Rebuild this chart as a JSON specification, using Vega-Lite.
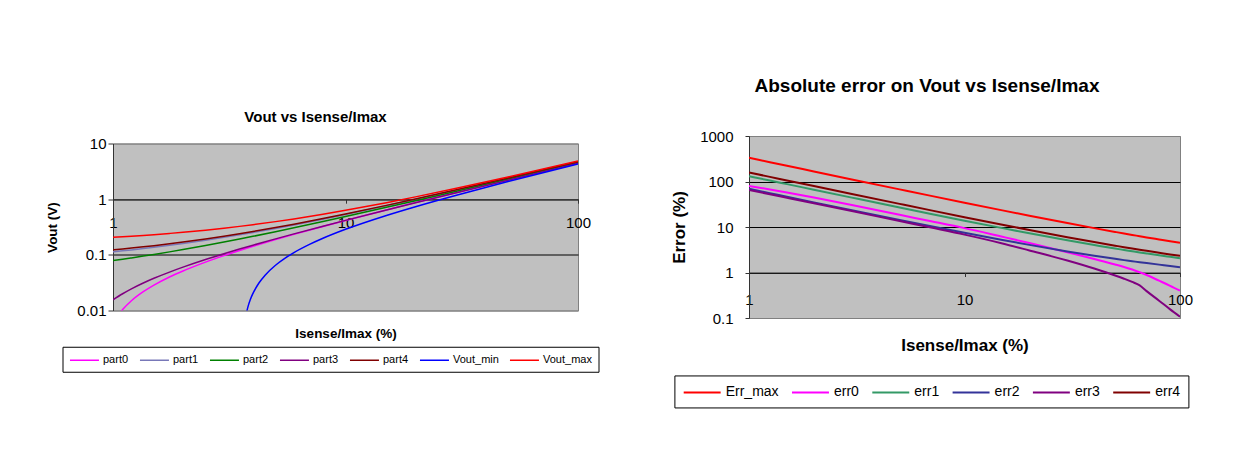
{
  "$schema": "https://vega.github.io/schema/vega-lite/v6.json",
  "background": "white",
  "padding": {"left": 45, "top": 76, "right": 5, "bottom": 5},
  "bounds": "flush",
  "center": true,
  "spacing": 171,
  "config": {
    "font": "Liberation Sans",
    "view": {"fill": "#C0C0C0", "stroke": "#808080", "strokeWidth": 1},
    "axis": {"labelColor": "black", "titleColor": "black", "labelFont": "Liberation Sans", "titleFont": "Liberation Sans", "domainColor": "#333333", "tickColor": "#333333", "gridOpacity": 1, "labelFlush": false, "labelOverlap": false},
    "legend": {"labelFont": "Liberation Sans", "labelColor": "black", "strokeColor": "black", "fillColor": "white", "title": null},
    "title": {"font": "Liberation Sans", "color": "black", "fontWeight": "bold"}
  },
  "resolve": {"scale": {"color": "independent"}, "legend": {"color": "independent"}},
  "hconcat": [
    {
      "width": 465,
      "height": 167,
      "title": {"text": "Vout vs Isense/Imax", "fontSize": 15, "anchor": "middle", "frame": "group", "dx": -30, "offset": -0.45, "baseline": "alphabetic"},
      "data": {"values": [
        {"s":"part0","x":1,"v":0.0059},{"s":"part0","x":1.1,"v":0.0104},{"s":"part0","x":1.2,"v":0.015},{"s":"part0","x":1.35,"v":0.0218},{"s":"part0","x":1.5,"v":0.0286},{"s":"part0","x":1.75,"v":0.04},{"s":"part0","x":2,"v":0.0513},{"s":"part0","x":2.5,"v":0.074},{"s":"part0","x":3,"v":0.0967},{"s":"part0","x":3.5,"v":0.1194},{"s":"part0","x":4,"v":0.1421},{"s":"part0","x":5,"v":0.1875},{"s":"part0","x":6,"v":0.2329},{"s":"part0","x":8,"v":0.3237},{"s":"part0","x":10,"v":0.4145},{"s":"part0","x":15,"v":0.6415},{"s":"part0","x":20,"v":0.8685},{"s":"part0","x":30,"v":1.3225},{"s":"part0","x":50,"v":2.2305},{"s":"part0","x":70,"v":3.1385},{"s":"part0","x":100,"v":4.5005},
        {"s":"part1","x":1,"v":0.1133},{"s":"part1","x":1.1,"v":0.1179},{"s":"part1","x":1.2,"v":0.1226},{"s":"part1","x":1.35,"v":0.1295},{"s":"part1","x":1.5,"v":0.1365},{"s":"part1","x":1.75,"v":0.148},{"s":"part1","x":2,"v":0.1596},{"s":"part1","x":2.5,"v":0.1828},{"s":"part1","x":3,"v":0.2059},{"s":"part1","x":3.5,"v":0.2291},{"s":"part1","x":4,"v":0.2522},{"s":"part1","x":5,"v":0.2985},{"s":"part1","x":6,"v":0.3448},{"s":"part1","x":8,"v":0.4374},{"s":"part1","x":10,"v":0.53},{"s":"part1","x":15,"v":0.7615},{"s":"part1","x":20,"v":0.993},{"s":"part1","x":30,"v":1.456},{"s":"part1","x":50,"v":2.382},{"s":"part1","x":70,"v":3.308},{"s":"part1","x":100,"v":4.697},
        {"s":"part2","x":1,"v":0.079},{"s":"part2","x":1.1,"v":0.0835},{"s":"part2","x":1.2,"v":0.0881},{"s":"part2","x":1.35,"v":0.0949},{"s":"part2","x":1.5,"v":0.1017},{"s":"part2","x":1.75,"v":0.113},{"s":"part2","x":2,"v":0.1243},{"s":"part2","x":2.5,"v":0.147},{"s":"part2","x":3,"v":0.1696},{"s":"part2","x":3.5,"v":0.1923},{"s":"part2","x":4,"v":0.2149},{"s":"part2","x":5,"v":0.2602},{"s":"part2","x":6,"v":0.3055},{"s":"part2","x":8,"v":0.3961},{"s":"part2","x":10,"v":0.4867},{"s":"part2","x":15,"v":0.7132},{"s":"part2","x":20,"v":0.9397},{"s":"part2","x":30,"v":1.3927},{"s":"part2","x":50,"v":2.2987},{"s":"part2","x":70,"v":3.2047},{"s":"part2","x":100,"v":4.5637},
        {"s":"part3","x":1,"v":0.0156},{"s":"part3","x":1.1,"v":0.02},{"s":"part3","x":1.2,"v":0.0245},{"s":"part3","x":1.35,"v":0.0312},{"s":"part3","x":1.5,"v":0.0379},{"s":"part3","x":1.75,"v":0.049},{"s":"part3","x":2,"v":0.0601},{"s":"part3","x":2.5,"v":0.0824},{"s":"part3","x":3,"v":0.1046},{"s":"part3","x":3.5,"v":0.1269},{"s":"part3","x":4,"v":0.1491},{"s":"part3","x":5,"v":0.1936},{"s":"part3","x":6,"v":0.2381},{"s":"part3","x":8,"v":0.3271},{"s":"part3","x":10,"v":0.4161},{"s":"part3","x":15,"v":0.6386},{"s":"part3","x":20,"v":0.8611},{"s":"part3","x":30,"v":1.3061},{"s":"part3","x":50,"v":2.1961},{"s":"part3","x":70,"v":3.0861},{"s":"part3","x":100,"v":4.4211},
        {"s":"part4","x":1,"v":0.123},{"s":"part4","x":1.1,"v":0.1277},{"s":"part4","x":1.2,"v":0.1323},{"s":"part4","x":1.35,"v":0.1393},{"s":"part4","x":1.5,"v":0.1463},{"s":"part4","x":1.75,"v":0.1579},{"s":"part4","x":2,"v":0.1695},{"s":"part4","x":2.5,"v":0.1928},{"s":"part4","x":3,"v":0.216},{"s":"part4","x":3.5,"v":0.2393},{"s":"part4","x":4,"v":0.2625},{"s":"part4","x":5,"v":0.309},{"s":"part4","x":6,"v":0.3555},{"s":"part4","x":8,"v":0.4485},{"s":"part4","x":10,"v":0.5415},{"s":"part4","x":15,"v":0.774},{"s":"part4","x":20,"v":1.0065},{"s":"part4","x":30,"v":1.472},{"s":"part4","x":50,"v":2.4015},{"s":"part4","x":70,"v":3.332},{"s":"part4","x":100,"v":4.7265},
        {"s":"Vout_min","x":3.7,"v":0.0069},{"s":"Vout_min","x":3.8,"v":0.0114},{"s":"Vout_min","x":3.9,"v":0.0159},{"s":"Vout_min","x":4,"v":0.0203},{"s":"Vout_min","x":4.25,"v":0.0315},{"s":"Vout_min","x":4.5,"v":0.0426},{"s":"Vout_min","x":5,"v":0.0649},{"s":"Vout_min","x":5.5,"v":0.0872},{"s":"Vout_min","x":6,"v":0.1095},{"s":"Vout_min","x":7,"v":0.154},{"s":"Vout_min","x":8,"v":0.1986},{"s":"Vout_min","x":10,"v":0.2878},{"s":"Vout_min","x":15,"v":0.5107},{"s":"Vout_min","x":20,"v":0.7336},{"s":"Vout_min","x":30,"v":1.1794},{"s":"Vout_min","x":50,"v":2.071},{"s":"Vout_min","x":70,"v":2.9626},{"s":"Vout_min","x":100,"v":4.3},
        {"s":"Vout_max","x":1,"v":0.207},{"s":"Vout_max","x":1.1,"v":0.2117},{"s":"Vout_max","x":1.2,"v":0.2164},{"s":"Vout_max","x":1.35,"v":0.2235},{"s":"Vout_max","x":1.5,"v":0.2305},{"s":"Vout_max","x":1.75,"v":0.2423},{"s":"Vout_max","x":2,"v":0.254},{"s":"Vout_max","x":2.5,"v":0.2775},{"s":"Vout_max","x":3,"v":0.301},{"s":"Vout_max","x":3.5,"v":0.3245},{"s":"Vout_max","x":4,"v":0.348},{"s":"Vout_max","x":5,"v":0.395},{"s":"Vout_max","x":6,"v":0.442},{"s":"Vout_max","x":8,"v":0.536},{"s":"Vout_max","x":10,"v":0.63},{"s":"Vout_max","x":15,"v":0.865},{"s":"Vout_max","x":20,"v":1.1},{"s":"Vout_max","x":30,"v":1.57},{"s":"Vout_max","x":50,"v":2.51},{"s":"Vout_max","x":70,"v":3.45},{"s":"Vout_max","x":100,"v":4.86}
      ]},
      "mark": {"type": "line", "strokeWidth": 1.5, "clip": true, "interpolate": "monotone"},
      "encoding": {
        "x": {"field": "x", "type": "quantitative", "scale": {"type": "log", "domain": [1, 100], "nice": false},
          "axis": {"values": [1, 10, 100], "format": "~g", "offset": -111.33, "grid": false, "tickSize": 4, "labelPadding": 12, "labelFontSize": 15, "title": "Isense/Imax (%)", "titleFontSize": 13.5, "titleFontWeight": "bold", "titlePadding": 96}},
        "y": {"field": "v", "type": "quantitative", "scale": {"type": "log", "domain": [0.01, 10], "nice": false},
          "axis": {"values": [0.01, 0.1, 1, 10], "format": "~g", "grid": true, "gridColor": {"condition": {"test": "datum.value == 10 || datum.value == 0.01", "value": "#808080"}, "value": "black"}, "tickSize": 5, "labelPadding": 2, "labelFontSize": 15, "title": "Vout (V)", "titleFontSize": 13.5, "titleFontWeight": "bold", "titlePadding": 17}},
        "color": {"field": "s", "type": "nominal",
          "scale": {"domain": ["part0", "part1", "part2", "part3", "part4", "Vout_min", "Vout_max"], "range": ["#FF00FF", "#7878B8", "#008000", "#800080", "#800000", "#0000FF", "#FF0000"]},
          "legend": {"orient": "none", "legendX": -50.5, "legendY": 203.25, "direction": "horizontal", "columns": 7, "symbolType": "M-1,0H3.8", "symbolSize": 146, "symbolStrokeWidth": 1.5, "labelFontSize": 11, "labelOffset": 20, "columnPadding": 7, "padding": 6.5}}
      }
    },
    {
      "width": 431,
      "height": 182,
      "title": {"text": "Absolute error on Vout vs Isense/Imax", "fontSize": 19, "anchor": "middle", "frame": "group", "dx": -37.5, "offset": 18.25, "baseline": "alphabetic"},
      "data": {"values": [
        {"s":"Err_max","x":1,"v":331.2},{"s":"Err_max","x":1.25,"v":265.2},{"s":"Err_max","x":1.5,"v":221.2},{"s":"Err_max","x":2,"v":166.2},{"s":"Err_max","x":3,"v":111.2},{"s":"Err_max","x":5,"v":67.2},{"s":"Err_max","x":7,"v":48.3},{"s":"Err_max","x":10,"v":34.2},{"s":"Err_max","x":15,"v":23.2},{"s":"Err_max","x":20,"v":17.7},{"s":"Err_max","x":30,"v":12.2},{"s":"Err_max","x":40,"v":9.45},{"s":"Err_max","x":50,"v":7.8},{"s":"Err_max","x":55,"v":7.2},{"s":"Err_max","x":60,"v":6.7},{"s":"Err_max","x":65,"v":6.28},{"s":"Err_max","x":70,"v":5.91},{"s":"Err_max","x":80,"v":5.33},{"s":"Err_max","x":90,"v":4.87},{"s":"Err_max","x":100,"v":4.5},
        {"s":"err0","x":1,"v":80},{"s":"err0","x":1.25,"v":67},{"s":"err0","x":1.5,"v":57.5},{"s":"err0","x":2,"v":44.5},{"s":"err0","x":3,"v":30.5},{"s":"err0","x":5,"v":18.5},{"s":"err0","x":7,"v":13.4},{"s":"err0","x":10,"v":9.45},{"s":"err0","x":15,"v":6.1},{"s":"err0","x":20,"v":4.45},{"s":"err0","x":30,"v":2.8},{"s":"err0","x":40,"v":1.98},{"s":"err0","x":50,"v":1.5},{"s":"err0","x":55,"v":1.32},{"s":"err0","x":60,"v":1.16},{"s":"err0","x":65,"v":1.01},{"s":"err0","x":70,"v":0.88},{"s":"err0","x":80,"v":0.66},{"s":"err0","x":90,"v":0.51},{"s":"err0","x":100,"v":0.4},
        {"s":"err1","x":1,"v":131},{"s":"err1","x":1.25,"v":104.9},{"s":"err1","x":1.5,"v":87.6},{"s":"err1","x":2,"v":65.9},{"s":"err1","x":3,"v":44.2},{"s":"err1","x":5,"v":26.8},{"s":"err1","x":7,"v":19.36},{"s":"err1","x":10,"v":13.78},{"s":"err1","x":15,"v":9.44},{"s":"err1","x":20,"v":7.27},{"s":"err1","x":30,"v":5.1},{"s":"err1","x":40,"v":4.02},{"s":"err1","x":50,"v":3.36},{"s":"err1","x":55,"v":3.13},{"s":"err1","x":60,"v":2.93},{"s":"err1","x":65,"v":2.76},{"s":"err1","x":70,"v":2.62},{"s":"err1","x":80,"v":2.39},{"s":"err1","x":90,"v":2.21},{"s":"err1","x":100,"v":2.06},
        {"s":"err2","x":1,"v":69},{"s":"err2","x":1.25,"v":55.35},{"s":"err2","x":1.5,"v":46.2},{"s":"err2","x":2,"v":34.8},{"s":"err2","x":3,"v":23.43},{"s":"err2","x":5,"v":14.31},{"s":"err2","x":7,"v":10.4},{"s":"err2","x":10,"v":7.47},{"s":"err2","x":15,"v":5.19},{"s":"err2","x":20,"v":4.05},{"s":"err2","x":30,"v":2.91},{"s":"err2","x":40,"v":2.34},{"s":"err2","x":50,"v":2},{"s":"err2","x":55,"v":1.87},{"s":"err2","x":60,"v":1.77},{"s":"err2","x":65,"v":1.68},{"s":"err2","x":70,"v":1.61},{"s":"err2","x":80,"v":1.49},{"s":"err2","x":90,"v":1.39},{"s":"err2","x":100,"v":1.31},
        {"s":"err3","x":1,"v":65},{"s":"err3","x":1.25,"v":52.5},{"s":"err3","x":1.5,"v":44},{"s":"err3","x":2,"v":33.3},{"s":"err3","x":3,"v":22.4},{"s":"err3","x":5,"v":13.5},{"s":"err3","x":7,"v":9.7},{"s":"err3","x":10,"v":6.8},{"s":"err3","x":15,"v":4.35},{"s":"err3","x":20,"v":3.05},{"s":"err3","x":30,"v":1.83},{"s":"err3","x":40,"v":1.22},{"s":"err3","x":50,"v":0.86},{"s":"err3","x":55,"v":0.73},{"s":"err3","x":60,"v":0.62},{"s":"err3","x":65,"v":0.52},{"s":"err3","x":70,"v":0.39},{"s":"err3","x":80,"v":0.24},{"s":"err3","x":90,"v":0.155},{"s":"err3","x":100,"v":0.107},
        {"s":"err4","x":1,"v":157.8},{"s":"err4","x":1.25,"v":126.4},{"s":"err4","x":1.5,"v":105.4},{"s":"err4","x":2,"v":79.3},{"s":"err4","x":3,"v":53.1},{"s":"err4","x":5,"v":32.2},{"s":"err4","x":7,"v":23.2},{"s":"err4","x":10,"v":16.45},{"s":"err4","x":15,"v":11.22},{"s":"err4","x":20,"v":8.6},{"s":"err4","x":30,"v":5.98},{"s":"err4","x":40,"v":4.68},{"s":"err4","x":50,"v":3.89},{"s":"err4","x":55,"v":3.6},{"s":"err4","x":60,"v":3.37},{"s":"err4","x":65,"v":3.17},{"s":"err4","x":70,"v":2.99},{"s":"err4","x":80,"v":2.71},{"s":"err4","x":90,"v":2.49},{"s":"err4","x":100,"v":2.32}
      ]},
      "mark": {"type": "line", "strokeWidth": 2, "clip": true, "interpolate": "monotone"},
      "encoding": {
        "x": {"field": "x", "type": "quantitative", "scale": {"type": "log", "domain": [1, 100], "nice": false},
          "axis": {"values": [1, 10, 100], "format": "~g", "offset": -45.5, "grid": false, "tickSize": 4, "labelPadding": 15.5, "labelFontSize": 15, "title": "Isense/Imax (%)", "titleFontSize": 17, "titleFontWeight": "bold", "titlePadding": 30.5}},
        "y": {"field": "v", "type": "quantitative", "scale": {"type": "log", "domain": [0.1, 1000], "nice": false},
          "axis": {"values": [0.1, 1, 10, 100, 1000], "format": "~g", "grid": true, "gridColor": {"condition": {"test": "datum.value == 1000 || datum.value == 0.1", "value": "#808080"}, "value": "black"}, "tickSize": 4, "labelPadding": 12, "labelFontSize": 15, "title": "Error (%)", "titleFontSize": 17, "titleFontWeight": "bold", "titlePadding": 11}},
        "color": {"field": "s", "type": "nominal",
          "scale": {"domain": ["Err_max", "err0", "err1", "err2", "err3", "err4"], "range": ["#FF0000", "#FF00FF", "#339966", "#333399", "#800080", "#800000"]},
          "legend": {"orient": "none", "legendX": -74.6, "legendY": 239.45, "direction": "horizontal", "columns": 6, "symbolType": "M-1,0H3.8", "symbolSize": 237, "symbolStrokeWidth": 2, "labelFontSize": 14, "labelOffset": 25.3, "columnPadding": 8.3, "padding": 8}}
      }
    }
  ]
}
